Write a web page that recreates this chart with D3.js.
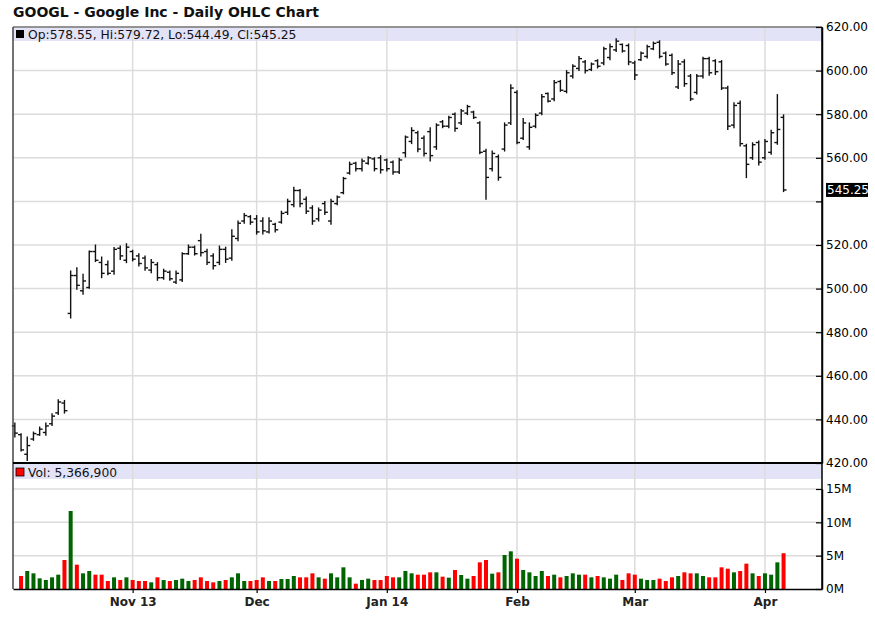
<!DOCTYPE html>
<html>
<head>
<meta charset="utf-8">
<script src="https://cdn.jsdelivr.net/npm/d3@7"></script>
<style>
  html, body { margin: 0; padding: 0; background: #fff; }
  svg { display: block; font-family: "DejaVu Sans", Verdana, sans-serif; }
</style>
</head>
<body>
<svg id="chart" width="875" height="640"></svg>
<script>
// ---------------- DATA ----------------
const title = "GOOGL - Google Inc - Daily OHLC Chart";

// trading days shown (Oct 7 2013 .. Apr 4 2014)
const tradingDays = {
  "2013-10": [7,8,9,10,11,14,15,16,17,18,21,22,23,24,25,28,29,30,31],
  "2013-11": [1,4,5,6,7,8,11,12,13,14,15,18,19,20,21,22,25,26,27,29],
  "2013-12": [2,3,4,5,6,9,10,11,12,13,16,17,18,19,20,23,24,26,27,30,31],
  "2014-01": [2,3,6,7,8,9,10,13,14,15,16,17,21,22,23,24,27,28,29,30,31],
  "2014-02": [3,4,5,6,7,10,11,12,13,14,18,19,20,21,24,25,26,27,28],
  "2014-03": [3,4,5,6,7,10,11,12,13,14,17,18,19,20,21,24,25,26,27,28,31],
  "2014-04": [1,2,3,4]
};

const openP = [437,
  433, 424, 431, 433, 434, 438, 443, 447.5, 488.6, 506,
  499, 500.5, 517, 512, 511, 508, 518.5, 513, 517, 515,
  514, 508.5, 511, 505, 507.5, 503, 504, 516, 519, 522,
  517, 515, 512, 518, 514, 523, 531, 533, 532, 531,
  526, 529.5, 530.5, 535, 538.5, 545, 541, 537, 532, 539,
  531, 539, 544, 553, 557.5, 555, 557.5, 559.5, 560, 559,
  558, 553.5, 562.3, 567.5, 571.5, 569, 572, 565, 576.5, 574.5,
  580, 576, 580.5, 581, 576, 563, 555, 560.5, 564, 576,
  590, 569, 565, 574.5, 580.5, 589.5, 587, 595, 590.5, 597.5,
  601, 604, 600.5, 604.5, 603.5, 606, 609.5, 612, 611.5, 603.5,
  605, 606.5, 610, 613, 608, 607, 592.5, 604, 597.5, 590,
  597.5, 605.5, 604.5, 604, 592, 575, 585, 565.5, 560, 567,
  560, 562.5, 567, 578.55];

const highP = [438.3,
  433.4, 431.9, 434.2, 436.5, 438.3, 442.6, 449, 448.7, 508.1, 509.6,
  506.6, 517.3, 520, 514.5, 512.7, 518.8, 519.5, 520.6, 517.6, 516,
  515, 513.4, 511.9, 508.9, 508.1, 508.1, 516.5, 520, 519.5, 524.9,
  518, 516, 519.5, 519, 527, 531, 534.5, 533.5, 533.5, 532.5,
  532.5, 530, 535.5, 541, 546.5, 545.5, 542, 538, 537, 540,
  541, 542.5, 551, 558, 558, 559.5, 560.5, 560, 561, 559.5,
  558.5, 559.8, 570, 573.8, 572.2, 570, 573.8, 575.6, 577.1, 579.1,
  580.6, 582.1, 584.1, 581.4, 576.5, 563.9, 563.1, 561.3, 576, 593.5,
  590.8, 578, 576, 580.2, 589, 589.7, 595.5, 595.5, 600, 602.7,
  606.5, 604.6, 603.5, 605, 610.7, 612.2, 614.6, 612.2, 612.2, 604.3,
  608.5, 611.6, 613.1, 613.7, 608.5, 607.6, 604.6, 605, 598.2, 598.2,
  606.1, 606.1, 605, 604.6, 592.8, 585.2, 586, 566.2, 566.9, 567.7,
  568.4, 572.6, 589, 579.72];

const lowP = [431.9,
  425.5, 421.2, 430.4, 432.7, 432.7, 437.2, 442.3, 442.9, 486.5, 499.7,
  497.4, 500.2, 512.4, 505, 506.3, 506.6, 513.4, 511.9, 512.7, 510.4,
  508.4, 507.3, 503.8, 504.3, 503.8, 502.3, 503.2, 515.7, 515.4, 515,
  511, 509, 511, 512, 513, 522, 530, 529.5, 525, 525,
  525.5, 526, 530, 534, 537.5, 537.5, 534.5, 529.5, 531, 534,
  529.5, 538.5, 543.5, 552.5, 554, 554, 557, 554, 553, 554,
  552.5, 552.8, 560.4, 566.5, 562.8, 560.8, 558.5, 563.9, 573.8, 573.8,
  572.2, 575.3, 579.8, 578, 561.9, 541, 554, 549.7, 563.1, 575.3,
  566.5, 568.4, 563.9, 573.8, 579.8, 585.6, 586.2, 590.5, 589.8, 596.6,
  600, 598.9, 600, 601.2, 602.7, 605, 608.8, 608.5, 602.7, 595.9,
  604.6, 605.8, 609.6, 605.8, 602.4, 598.2, 591.8, 592.8, 586.3, 589.3,
  596.6, 597.9, 598.2, 591.3, 573, 573.8, 565.4, 550.9, 559.3, 556.7,
  559.3, 561.6, 566.2, 544.49];

const closeP = [433.7,
  426, 428, 433.5, 435.5, 437, 441.5, 448, 444, 506, 501.5,
  503.5, 517, 513, 507, 507, 518, 515, 519, 513.5, 511.5,
  509.5, 512, 505, 508, 504.5, 507, 516, 519, 516, 516.5,
  512, 510.5, 518, 513.5, 524, 530, 533.5, 530.5, 526, 526.5,
  531, 527, 534.5, 540, 545, 539, 535.5, 531, 536, 535,
  540, 542, 550.5, 557, 555, 558.5, 560, 555, 554.5, 555,
  553.5, 559, 569.5, 572.5, 564, 562, 561, 575, 574.5, 578.5,
  573.5, 581.5, 583.5, 578.5, 562.5, 551, 562, 551, 575, 592,
  567, 576, 574, 579.5, 588, 586, 594.5, 591, 599, 602,
  605.5, 600, 603, 602, 610, 611, 613.5, 609, 604, 598,
  608, 611, 612.5, 606.5, 603, 599, 603, 594, 587, 597.5,
  605.5, 599, 599.5, 592, 574.5, 584, 566.5, 557, 566, 558,
  567.5, 571.5, 573, 545.25];

// daily volume, millions of shares (first day has no volume bar shown)
const volumeM = [null,
  1.95, 2.7, 2.35, 1.6, 1.35, 1.75, 2.15, 4.35, 11.7, 3.65,
  2.35, 2.7, 2.15, 2.15, 1.2, 1.75, 1.35, 1.75, 1.35, 1.2,
  1.2, 1.0, 1.75, 1.35, 1.2, 1.35, 1.55, 1.2, 1.35, 1.75,
  1.2, 1.0, 1.2, 1.35, 1.75, 2.35, 1.2, 1.2, 1.35, 1.75,
  1.2, 1.2, 1.5, 1.5, 1.95, 1.75, 1.75, 2.35, 1.75, 1.55,
  2.35, 1.75, 3.25, 1.75, 0.8, 1.35, 1.55, 1.35, 1.35, 1.95,
  1.75, 1.75, 2.7, 2.35, 2.15, 2.15, 2.5, 2.5, 1.85, 1.7,
  2.85, 2.1, 1.55, 1.95, 4.0, 4.35, 2.3, 2.5, 5.1, 5.65,
  4.55, 2.85, 2.5, 1.95, 2.7, 1.95, 2.15, 1.75, 1.95, 2.35,
  2.15, 2.15, 1.75, 1.95, 1.75, 1.55, 2.15, 1.35, 2.35, 2.15,
  1.55, 1.35, 1.35, 1.55, 1.2, 1.75, 1.95, 2.5, 2.35, 2.35,
  1.95, 1.75, 1.75, 3.25, 3.05, 2.5, 2.7, 3.8, 2.35, 1.95,
  2.35, 2.15, 4.0, 5.3669];

const priceTicks = [420, 440, 460, 480, 500, 520, 540, 560, 580, 600, 620];
const volumeTicks = [0, 5, 10, 15];
const monthLabels = ["Nov 13", "Dec", "Jan 14", "Feb", "Mar", "Apr"];

// ---------------- BUILD ----------------
const dates = [];
Object.keys(tradingDays).forEach(m => tradingDays[m].forEach(d => dates.push(m + "-" + String(d).padStart(2, "0"))));
const bars = dates.map((d, j) => ({
  j, date: d, o: openP[j], h: highP[j], l: lowP[j], c: closeP[j], v: volumeM[j]
}));
// first trading day of each new month
const monthStarts = [];
for (let j = 1; j < dates.length; j++) {
  if (dates[j].slice(0, 7) !== dates[j - 1].slice(0, 7)) monthStarts.push(j);
}

const L = 13, R = 822, PT = 27, PB = 463, VB = 589;
const svg = d3.select("#chart");

const x = d3.scaleLinear().domain([-0.3, 130.2]).range([L, R]);
const y = d3.scaleLinear().domain([420, 620]).range([PB, PT]);
const yv = d3.scaleLinear().domain([0, 15]).range([VB, 489]);

// bands
svg.append("rect").attr("x", L).attr("y", PT).attr("width", R - L).attr("height", 14).attr("fill", "#e3e3f8");
svg.append("rect").attr("x", L).attr("y", PB + 1).attr("width", R - L).attr("height", 15).attr("fill", "#e3e3f8");

// grid lines
const grid = svg.append("g").attr("stroke", "#dcdcdc").attr("stroke-width", 1.5);
grid.selectAll(".hp").data(priceTicks).join("line")
  .attr("x1", L).attr("x2", R).attr("y1", d => y(d)).attr("y2", d => y(d));
grid.selectAll(".hv").data(volumeTicks.filter(d => d > 0)).join("line")
  .attr("x1", L).attr("x2", R).attr("y1", d => yv(d)).attr("y2", d => yv(d));
grid.selectAll(".vg").data(monthStarts).join("line")
  .attr("x1", d => x(d)).attr("x2", d => x(d)).attr("y1", PT).attr("y2", VB);

// OHLC bars
const ohlc = svg.append("g").attr("stroke", "#111").attr("stroke-width", 1.4);
const gb = ohlc.selectAll("g").data(bars).join("g");
gb.append("line").attr("x1", d => x(d.j)).attr("x2", d => x(d.j))
  .attr("y1", d => y(d.h) - 0.5).attr("y2", d => y(d.l) + 0.5);
gb.append("line").attr("x1", d => x(d.j) - 3).attr("x2", d => x(d.j))
  .attr("y1", d => y(d.o)).attr("y2", d => y(d.o));
gb.append("line").attr("x1", d => x(d.j)).attr("x2", d => x(d.j) + 3)
  .attr("y1", d => y(d.c)).attr("y2", d => y(d.c));

// volume bars
svg.append("g").selectAll("rect").data(bars.filter(d => d.v != null)).join("rect")
  .attr("x", d => x(d.j) - 2).attr("width", 4)
  .attr("y", d => yv(d.v)).attr("height", d => VB - yv(d.v))
  .attr("fill", d => d.c >= d.o ? "#006400" : "#ff0000");

// frame
svg.append("line").attr("x1", L).attr("x2", L).attr("y1", PT).attr("y2", VB).attr("stroke", "#444").attr("stroke-width", 1.5);
svg.append("line").attr("x1", L).attr("x2", R).attr("y1", PT).attr("y2", PT).attr("stroke", "#444").attr("stroke-width", 1.2);
svg.append("line").attr("x1", L).attr("x2", R).attr("y1", PB).attr("y2", PB).attr("stroke", "#000").attr("stroke-width", 2.2);

// right axes
const last = bars[bars.length - 1];
const lastY = y(last.c);
const fmt2 = d3.format(".2f");
const pAxis = d3.axisRight(y).tickValues(priceTicks).tickSizeInner(-6).tickSizeOuter(0).tickPadding(4)
  .tickFormat(d => Math.abs(y(d) - lastY) < 12 ? "" : fmt2(d));
const pg = svg.append("g").attr("transform", `translate(${R},0)`).call(pAxis);
const vAxis = d3.axisRight(yv).tickValues(volumeTicks).tickSizeInner(-6).tickSizeOuter(0).tickPadding(4)
  .tickFormat(d => d + "M");
const vg = svg.append("g").attr("transform", `translate(${R},0)`).call(vAxis);
[pg, vg].forEach(g => {
  g.select(".domain").attr("stroke", "#000").attr("stroke-width", 1.5);
  g.selectAll(".tick line").attr("stroke", "#000").attr("stroke-width", 1.2);
  g.selectAll(".tick text").attr("font-size", 12).attr("fill", "#000")
    .attr("font-family", "DejaVu Sans");
});
// the price domain line spans the full height
svg.append("line").attr("x1", R).attr("x2", R).attr("y1", PT).attr("y2", VB).attr("stroke", "#000").attr("stroke-width", 1.5);

// last price marker
const lastLbl = fmt2(last.c);
svg.append("rect").attr("x", R + 4).attr("y", lastY - 7).attr("width", 42).attr("height", 14).attr("fill", "#000");
svg.append("text").attr("x", R + 5).attr("y", lastY).attr("dy", "0.36em")
  .attr("font-size", 12).attr("fill", "#fff").text(lastLbl);

// bottom axis
const xAxis = d3.axisBottom(x).tickValues(monthStarts).tickSizeInner(4).tickSizeOuter(0).tickPadding(4)
  .tickFormat((d, i) => monthLabels[i]);
const xg = svg.append("g").attr("transform", `translate(0,${VB})`).call(xAxis);
xg.select(".domain").attr("stroke", "#000").attr("stroke-width", 1.5);
xg.selectAll(".tick line").attr("stroke", "#000").attr("stroke-width", 1.2);
xg.selectAll(".tick text").attr("font-size", 12).attr("font-weight", "bold").attr("fill", "#222")
  .attr("font-family", "DejaVu Sans");

// title
svg.append("text").attr("x", L).attr("y", 17).attr("font-size", 14).attr("font-weight", "bold")
  .attr("fill", "#111").text(title);

// legends
svg.append("rect").attr("x", 16).attr("y", 30).attr("width", 8).attr("height", 8).attr("fill", "#000");
svg.append("text").attr("x", 28).attr("y", 38.5).attr("font-size", 12.3).attr("fill", "#111")
  .text(`Op:${fmt2(last.o)}, Hi:${fmt2(last.h)}, Lo:${fmt2(last.l)}, Cl:${fmt2(last.c)}`);
svg.append("rect").attr("x", 16).attr("y", 468).attr("width", 8).attr("height", 8)
  .attr("fill", "#ff0000").attr("stroke", "#000").attr("stroke-width", 0.8);
svg.append("text").attr("x", 28).attr("y", 476.5).attr("font-size", 12.3).attr("fill", "#111")
  .text("Vol: " + d3.format(",")(Math.round(last.v * 1e6)));
</script>
</body>
</html>
